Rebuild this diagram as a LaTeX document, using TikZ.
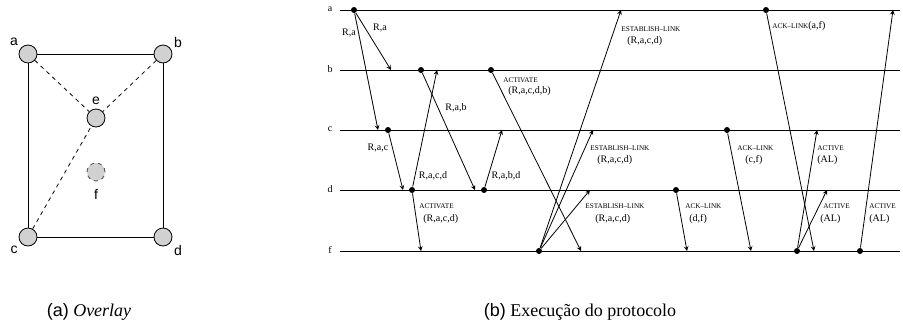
\documentclass[tikz,border=0pt]{standalone}
\usepackage{fontspec}
\setmainfont{Liberation Serif}
\setsansfont{Liberation Sans}

\tikzset{
  peer/.style={circle,draw,fill=black!18,inner sep=0pt,minimum size=13.5pt,line width=0.6pt},
  dot/.style={circle,fill,inner sep=0pt,minimum size=4.5pt},
  msg/.style={font=\fontsize{7.5}{9}\selectfont,inner sep=0pt},
  tag/.style={font=\fontsize{5.4}{6.5}\selectfont,inner sep=0pt,anchor=west},
  arg/.style={font=\fontsize{7.5}{9}\selectfont,inner sep=0pt,anchor=west},
}

\begin{document}
\begin{tikzpicture}[x=0.75pt,y=-0.75pt,line width=0.6pt,>=stealth]
\useasboundingbox (0,0) rectangle (903,333);

% (a) overlay
\node[peer] (a) at (28,54) {};
\node[peer] (b) at (163,54) {};
\node[peer] (c) at (28,237) {};
\node[peer] (d) at (163,237) {};
\node[peer] (e) at (96,118) {};
\node[peer,dashed,draw=black!70] (f) at (96,172) {};
\node[font=\sffamily\fontsize{10.5}{12}\selectfont] (la) at (14,42) {a};
\node[font=\sffamily\fontsize{10.5}{12}\selectfont] (lb) at (178,42) {b};
\node[font=\sffamily\fontsize{10.5}{12}\selectfont] (lc) at (14,250) {c};
\node[font=\sffamily\fontsize{10.5}{12}\selectfont] (ld) at (178,250) {d};
\node[font=\sffamily\fontsize{10.5}{12}\selectfont] (le) at (96,101) {e};
\node[font=\sffamily\fontsize{10.5}{12}\selectfont] (lf) at (96,194) {f};
\draw (a)--(b);
\draw (a)--(c);
\draw (b)--(d);
\draw (c)--(d);
\draw[dashed] (a)--(e);
\draw[dashed] (b)--(e);
\draw[dashed] (c)--(e);

% (b) time lines
\node[font=\fontsize{7.5}{9}\selectfont] (ta) at (330,9) {a};
\node[font=\fontsize{7.5}{9}\selectfont] (tb) at (330,69) {b};
\node[font=\fontsize{7.5}{9}\selectfont] (tc) at (330,129) {c};
\node[font=\fontsize{7.5}{9}\selectfont] (td) at (330,189) {d};
\node[font=\fontsize{7.5}{9}\selectfont] (tf) at (330,250) {f};
\coordinate (a0) at (340,10);  \coordinate (a9) at (900,10);
\coordinate (b0) at (340,70);  \coordinate (b9) at (900,70);
\coordinate (c0) at (340,130); \coordinate (c9) at (900,130);
\coordinate (d0) at (340,190); \coordinate (d9) at (900,190);
\coordinate (f0) at (340,251); \coordinate (f9) at (900,251);
\draw (a0)--(a9);
\draw (b0)--(b9);
\draw (c0)--(c9);
\draw (d0)--(d9);
\draw (f0)--(f9);

% senders
\node[dot] (a1) at (354,10) {};
\node[dot] (a2) at (766,10) {};
\node[dot] (b1) at (421,70) {};
\node[dot] (b2) at (491,70) {};
\node[dot] (c1) at (388,130) {};
\node[dot] (c2) at (727,130) {};
\node[dot] (d1) at (412,190) {};
\node[dot] (d2) at (484,190) {};
\node[dot] (d3) at (676,190) {};
\node[dot] (f1) at (539,251) {};
\node[dot] (f2) at (797,251) {};
\node[dot] (f3) at (860,251) {};

% receivers
\coordinate (ra1) at (621,10);
\coordinate (ra2) at (893,10);
\coordinate (rb1) at (391,70);
\coordinate (rb2) at (437,70);
\coordinate (rc1) at (378,130);
\coordinate (rc2) at (502,130);
\coordinate (rc3) at (593,130);
\coordinate (rc4) at (817,130);
\coordinate (rd1) at (403,190);
\coordinate (rd2) at (475,190);
\coordinate (rd3) at (590,190);
\coordinate (rd4) at (827,190);
\coordinate (rf1) at (421,251);
\coordinate (rf2) at (581,251);
\coordinate (rf3) at (687,251);
\coordinate (rf4) at (751,251);
\coordinate (rf5) at (814,251);

\draw[->] (a1)--(rb1);
\draw[->] (a1)--(rc1);
\draw[->] (b1)--(rd2);
\draw[->] (d1)--(rb2);
\draw[->] (c1)--(rd1);
\draw[->] (d1)--(rf1);
\draw[->] (d2)--(rc2);
\draw[->] (b2)--(rf2);
\draw[->] (f1)--(ra1);
\draw[->] (f1)--(rc3);
\draw[->] (f1)--(rd3);
\draw[->] (a2)--(rf5);
\draw[->] (c2)--(rf4);
\draw[->] (d3)--(rf3);
\draw[->] (f2)--(rc4);
\draw[->] (f2)--(rd4);
\draw[->] (f3)--(ra2);

% messages
\node[msg] (m1) at (349,33) {R,a};
\node[msg] (m2) at (380,28) {R,a};
\node[msg] (m3) at (456,108) {R,a,b};
\node[msg] (m4) at (378,148) {R,a,c};
\node[msg] (m5) at (433,176) {R,a,c,d};
\node[msg] (m6) at (506,176) {R,a,b,d};
\node[tag] (m7) at (419,206) {ACTIVATE};
\node[arg] (m7a) at (423,219) {(R,a,c,d)};
\node[tag] (m8) at (503,80) {ACTIVATE};
\node[arg] (m8a) at (508,91) {(R,a,c,d,b)};
\node[tag] (m9) at (621,29) {ESTABLISH--LINK};
\node[arg] (m9a) at (627,41) {(R,a,c,d)};
\node[tag] (m10) at (590,148) {ESTABLISH--LINK};
\node[arg] (m10a) at (597,160) {(R,a,c,d)};
\node[tag] (m11) at (585,206) {ESTABLISH--LINK};
\node[arg] (m11a) at (595,219) {(R,a,c,d)};
\node[tag] (m12) at (772,26) {ACK--LINK\fontsize{7.5}{9}\selectfont(a,f)};
\node[tag] (m13) at (737,148) {ACK--LINK};
\node[arg] (m13a) at (745,160) {(c,f)};
\node[tag] (m14) at (685,206) {ACK--LINK};
\node[arg] (m14a) at (689,219) {(d,f)};
\node[tag] (m15) at (817,148) {ACTIVE};
\node[arg] (m15a) at (817,160) {(AL)};
\node[tag] (m16) at (823,206) {ACTIVE};
\node[arg] (m16a) at (820,219) {(AL)};
\node[tag] (m17) at (869,206) {ACTIVE};
\node[arg] (m17a) at (869,219) {(AL)};

% captions
\node[font=\fontsize{13.5}{16}\selectfont] (capa) at (89,312) {\textsf{(a)} \textit{Overlay}};
\node[font=\fontsize{13.5}{16}\selectfont] (capb) at (580,312) {\textsf{(b)} Execução do protocolo};
\end{tikzpicture}
\end{document}
